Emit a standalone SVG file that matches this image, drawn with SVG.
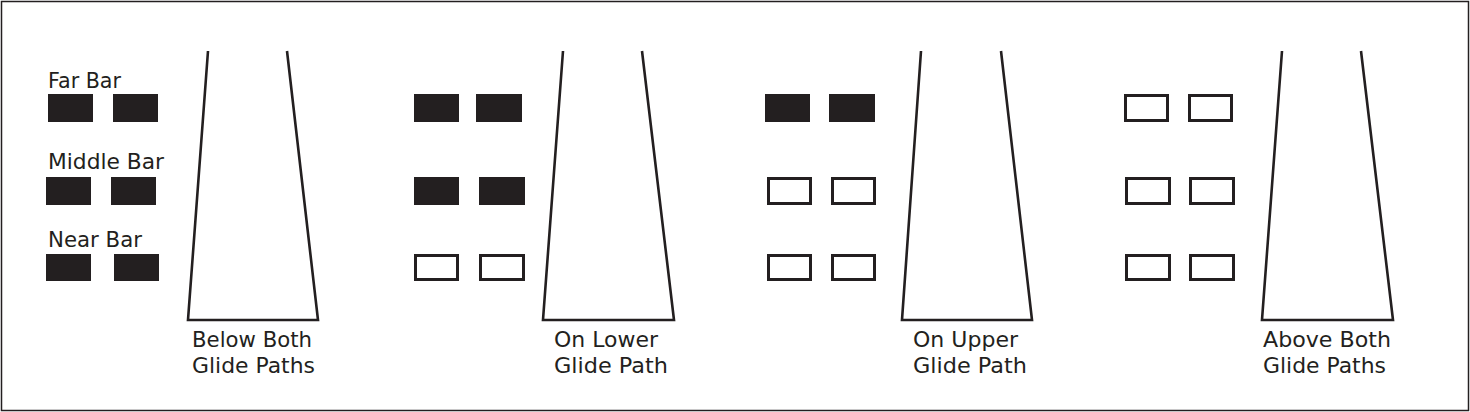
<svg xmlns="http://www.w3.org/2000/svg" width="1470" height="412" viewBox="0 0 1470 412">
<style>
.bg{fill:#ffffff}
.frame{fill:none;stroke:#231f20;stroke-width:1.5}
.on{fill:#231f20}
.off{fill:#ffffff;stroke:#231f20;stroke-width:3}
.rw{fill:none;stroke:#231f20;stroke-width:2.6;stroke-linejoin:miter}
text{font-family:"DejaVu Sans","Liberation Sans",sans-serif;font-size:22px;fill:#231f20}
</style>
<rect class="bg" x="0" y="0" width="1470" height="412"/>
<rect class="frame" x="1.5" y="1.5" width="1467" height="409"/>

<g id="legend">
  <text x="48" y="88" textLength="73" lengthAdjust="spacingAndGlyphs">Far Bar</text>
  <rect class="on" x="48" y="94" width="45" height="28"/>
  <rect class="on" x="113" y="94" width="45" height="28"/>
  <text x="48" y="169" textLength="116" lengthAdjust="spacingAndGlyphs">Middle Bar</text>
  <rect class="on" x="46" y="177" width="45" height="28"/>
  <rect class="on" x="111" y="177" width="45" height="28"/>
  <text x="48" y="247" textLength="94" lengthAdjust="spacingAndGlyphs">Near Bar</text>
  <rect class="on" x="46" y="254" width="45" height="27"/>
  <rect class="on" x="114" y="254" width="45" height="27"/>
</g>

<g id="panel-below">
  <path class="rw" d="M208,51 L188,320 L318,320 L287,51"/>
  <text x="192" y="347" textLength="120" lengthAdjust="spacingAndGlyphs">Below Both</text>
  <text x="192" y="373" textLength="123" lengthAdjust="spacingAndGlyphs">Glide Paths</text>
</g>

<g id="panel-lower">
  <rect class="on" x="414" y="94" width="45" height="28"/>
  <rect class="on" x="476" y="94" width="46" height="28"/>
  <rect class="on" x="414" y="177" width="45" height="28"/>
  <rect class="on" x="479" y="177" width="46" height="28"/>
  <rect class="off" x="415.5" y="255.5" width="42" height="24"/>
  <rect class="off" x="480.5" y="255.5" width="43" height="24"/>
  <path class="rw" d="M563,51 L543,320 L674,320 L642,51"/>
  <text x="554" y="347" textLength="104" lengthAdjust="spacingAndGlyphs">On Lower</text>
  <text x="554" y="373" textLength="114" lengthAdjust="spacingAndGlyphs">Glide Path</text>
</g>

<g id="panel-upper">
  <rect class="on" x="765" y="94" width="45" height="28"/>
  <rect class="on" x="829" y="94" width="46" height="28"/>
  <rect class="off" x="768.5" y="178.5" width="42" height="25"/>
  <rect class="off" x="832.5" y="178.5" width="42" height="25"/>
  <rect class="off" x="768.5" y="255.5" width="42" height="24"/>
  <rect class="off" x="832.5" y="255.5" width="42" height="24"/>
  <path class="rw" d="M921,51 L902,320 L1032,320 L1001,51"/>
  <text x="913" y="347" textLength="105" lengthAdjust="spacingAndGlyphs">On Upper</text>
  <text x="913" y="373" textLength="114" lengthAdjust="spacingAndGlyphs">Glide Path</text>
</g>

<g id="panel-above">
  <rect class="off" x="1125.5" y="95.5" width="42" height="25"/>
  <rect class="off" x="1189.5" y="95.5" width="42" height="25"/>
  <rect class="off" x="1126.5" y="178.5" width="43" height="25"/>
  <rect class="off" x="1190.5" y="178.5" width="43" height="25"/>
  <rect class="off" x="1126.5" y="255.5" width="43" height="24"/>
  <rect class="off" x="1190.5" y="255.5" width="43" height="24"/>
  <path class="rw" d="M1282,51 L1262,320 L1393,320 L1361,51"/>
  <text x="1263" y="347" textLength="128" lengthAdjust="spacingAndGlyphs">Above Both</text>
  <text x="1263" y="373" textLength="123" lengthAdjust="spacingAndGlyphs">Glide Paths</text>
</g>

<g id="connectors"></g>
</svg>
